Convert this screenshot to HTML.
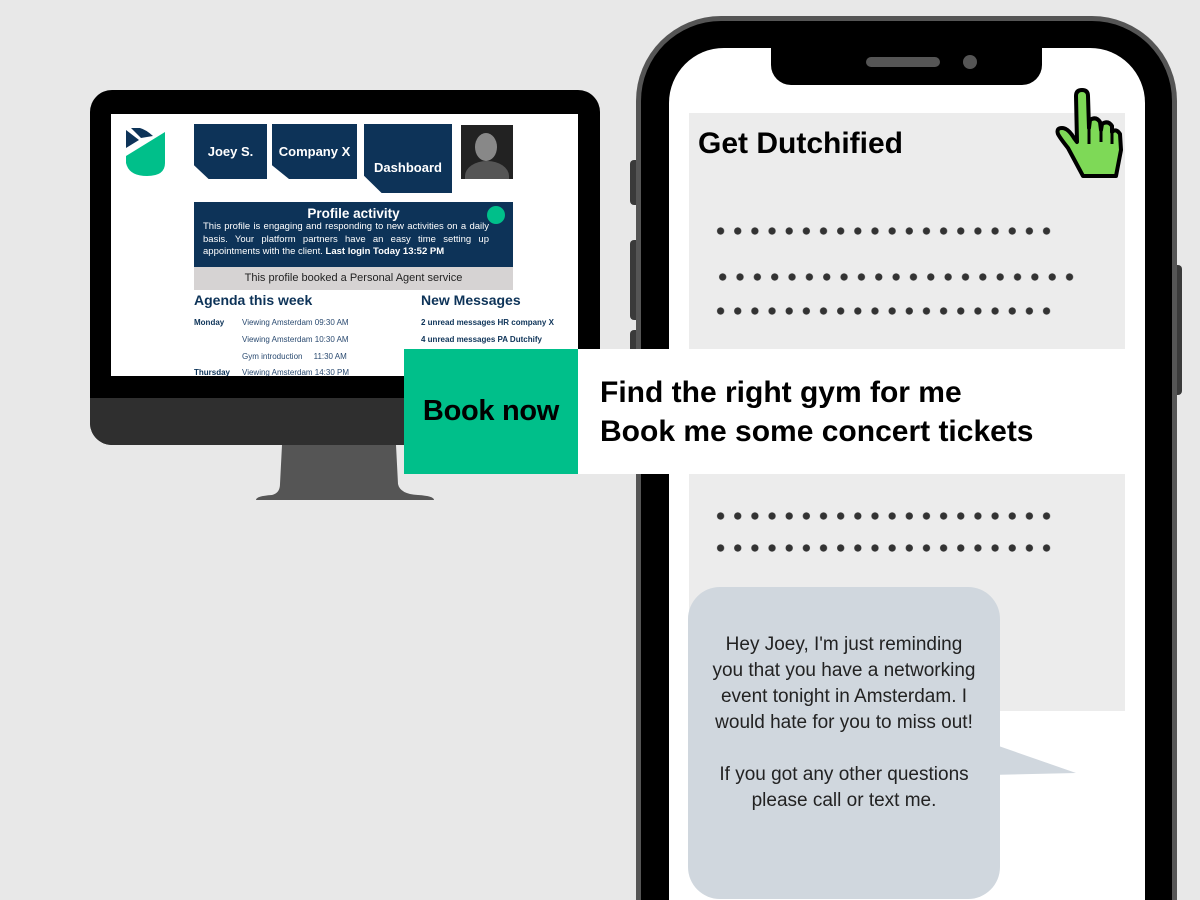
<!DOCTYPE html>
<html><head><meta charset="utf-8"><style>
*{margin:0;padding:0;box-sizing:border-box}
html,body{width:1200px;height:900px;overflow:hidden}
body{background:#e8e8e8;position:relative;font-family:"Liberation Sans",sans-serif}
.a{position:absolute}
.dots{position:absolute;height:10px;background:radial-gradient(circle,#333 3.3px,transparent 3.9px) repeat-x;}
.tab{position:absolute;background:#0d3358;color:#fff;font-weight:bold;font-size:13px;display:flex;align-items:center;justify-content:center;clip-path:polygon(0 0,100% 0,100% 100%,20% 100%,0 75%)}
.ag{position:absolute;font-size:8px;color:#2a4a70}
.ag b{color:#0d3358}
.bt{position:absolute;left:0;width:312px;text-align:center;color:#222}
</style></head><body>
<div class="a" style="left:0;top:0;width:1200px;height:900px;overflow:hidden">

<!-- monitor -->
<div class="a" style="left:90px;top:90px;width:510px;height:355px;background:#000;border-radius:22px;overflow:hidden">
  <div class="a" style="left:0;top:308px;width:510px;height:47px;background:#2f2f2f"></div>
</div>
<svg class="a" style="left:250px;top:444px" width="190" height="60"><path d="M32 1 L146 1 L148 40 Q150 50 168 51 Q184 52 184 56 L6 56 Q6 52 22 51 Q30 49 30 40 Z" fill="#555"/></svg>
<div class="a" style="left:111px;top:114px;width:467px;height:262px;background:#fff;overflow:hidden">
  <svg class="a" style="left:14px;top:14px" width="45" height="50"><path d="M1 2 L14 12 L1 20Z M6 0 Q16 -3 28 8 L16 10Z" fill="#0d3358"/><path d="M1 28 L40 4 L40 35 Q40 48 22 48 Q4 48 1 35Z" fill="#00bf8a"/></svg>
  <div class="tab" style="left:83px;top:10px;width:73px;height:55px">Joey S.</div>
  <div class="tab" style="left:161px;top:10px;width:85px;height:55px">Company X</div>
  <div class="tab" style="left:253px;top:10px;width:88px;height:69px;padding-top:18px">Dashboard</div>
  <div class="a" style="left:350px;top:11px;width:52px;height:54px;background:#222;overflow:hidden"><div class="a" style="left:14px;top:8px;width:22px;height:28px;border-radius:50%;background:#888"></div><div class="a" style="left:4px;top:36px;width:44px;height:30px;border-radius:50% 50% 0 0;background:#555"></div></div>
  <div class="a" style="left:83px;top:88px;width:319px;height:65px;background:#0d3358;color:#fff">
    <div style="text-align:center;font-weight:bold;font-size:13.5px;padding-top:4px">Profile activity</div>
    <div style="font-size:9.5px;line-height:12.5px;padding:0 24px 0 9px;text-align:justify">This profile is engaging and responding to new activities on a daily basis. Your platform partners have an easy time setting up appointments with the client. <b>Last login Today 13:52 PM</b></div>
    <div class="a" style="left:293px;top:4px;width:18px;height:18px;border-radius:50%;background:#00bf8a"></div>
  </div>
  <div class="a" style="left:83px;top:153px;width:319px;height:23px;background:#d6d3d3;font-size:11px;text-align:center;line-height:23px;color:#222">This profile booked a Personal Agent service</div>
  <div class="a" style="left:83px;top:178px;font-size:14px;font-weight:bold;color:#0d3358">Agenda this week</div>
  <div class="a" style="left:310px;top:178px;font-size:14px;font-weight:bold;color:#0d3358">New Messages</div>
  <div class="ag" style="left:83px;top:204px"><b>Monday</b></div>
  <div class="ag" style="left:131px;top:204px">Viewing Amsterdam 09:30 AM</div>
  <div class="ag" style="left:131px;top:221px">Viewing Amsterdam 10:30 AM</div>
  <div class="ag" style="left:131px;top:238px">Gym introduction &nbsp;&nbsp;&nbsp; 11:30 AM</div>
  <div class="ag" style="left:83px;top:254px"><b>Thursday</b></div>
  <div class="ag" style="left:131px;top:254px">Viewing Amsterdam 14:30 PM</div>
  <div class="ag" style="left:310px;top:204px"><b>2 unread messages HR company X</b></div>
  <div class="ag" style="left:310px;top:221px"><b>4 unread messages PA Dutchify</b></div>
</div>

<!-- phone -->
<div class="a" style="left:630px;top:160px;width:10px;height:45px;background:#3a3a3a;border-radius:4px"></div>
<div class="a" style="left:630px;top:240px;width:10px;height:80px;background:#3a3a3a;border-radius:4px"></div>
<div class="a" style="left:630px;top:330px;width:10px;height:80px;background:#3a3a3a;border-radius:4px"></div>
<div class="a" style="left:1172px;top:265px;width:10px;height:130px;background:#3a3a3a;border-radius:4px"></div>
<div class="a" style="left:636px;top:16px;width:541px;height:884px;background:#000;border:5px solid #555;border-bottom:0;border-radius:85px 85px 0 0"></div>
<div class="a" style="left:669px;top:48px;width:476px;height:852px;background:#fff;border-radius:55px 55px 0 0"></div>
<div class="a" style="left:771px;top:40px;width:271px;height:45px;background:#000;border-radius:0 0 20px 20px"></div>
<div class="a" style="left:866px;top:57px;width:74px;height:10px;background:#555;border-radius:5px"></div>
<div class="a" style="left:963px;top:55px;width:14px;height:14px;background:#555;border-radius:50%"></div>
<div class="a" style="left:689px;top:113px;width:436px;height:598px;background:#ececec"></div>
<div class="a" style="left:698px;top:127px;font-size:30px;font-weight:bold;color:#000">Get Dutchified</div>
<svg class="a" style="left:1050px;top:86px" width="80" height="96"><path d="M26 10 Q26 4 32 4 Q38 4 38 10 L39 42 L40 34 Q46 30 50 36 L51 44 L52 38 Q58 34 62 40 L62 46 Q66 42 70 48 L71 64 L66 90 L33 90 L18 62 Q10 52 8 48 Q6 42 12 42 Q18 42 24 52 L27 56 Z" fill="#7ed957" stroke="#000" stroke-width="4" stroke-linejoin="round"/><path d="M39 42 L39 58 M51 44 L51 56 M62 46 L62 58" stroke="#000" stroke-width="3"/></svg>
<div class="dots" style="left:712px;top:226px;width:343px;background-size:17.16px 10px"></div>
<div class="dots" style="left:714px;top:272px;width:364px;background-size:17.35px 10px"></div>
<div class="dots" style="left:712px;top:306px;width:343px;background-size:17.16px 10px"></div>
<div class="dots" style="left:712px;top:511px;width:343px;background-size:17.16px 10px"></div>
<div class="dots" style="left:712px;top:543px;width:343px;background-size:17.16px 10px"></div>

<!-- book now -->
<div class="a" style="left:404px;top:349px;width:174px;height:125px;background:#00bf8a;font-size:29px;font-weight:bold;line-height:125px;text-align:center;color:#000;letter-spacing:-0.3px">Book now</div>
<div class="a" style="left:578px;top:349px;width:547px;height:125px;background:#fff"></div>
<div class="a" style="left:600px;top:373px;font-size:30px;font-weight:bold;line-height:39px;color:#000">Find the right gym for me<br>Book me some concert tickets</div>

<!-- bubble -->
<svg class="a" style="left:990px;top:735px" width="100" height="60"><path d="M0 8 L86 38 L0 40 Z" fill="#d0d7de"/></svg>
<div class="a" style="left:688px;top:587px;width:312px;height:312px;background:#d0d7de;border-radius:32px">
  <div class="bt" style="top:45px;font-size:19px;line-height:26px">Hey Joey, I'm just reminding<br>you that you have a networking<br>event tonight in Amsterdam. I<br>would hate for you to miss out!<br><br>If you got any other questions<br>please call or text me.</div>
</div>
</div>
</body></html>
